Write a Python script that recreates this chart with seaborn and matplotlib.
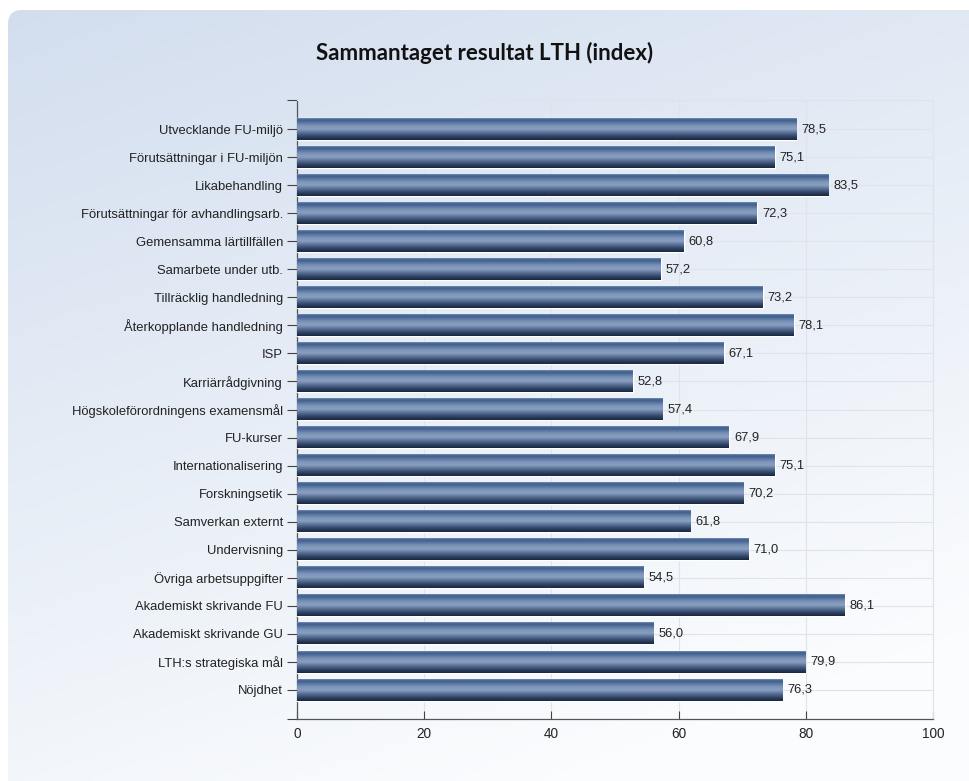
import numpy as np
import pandas as pd
import matplotlib
matplotlib.use('Agg')
import matplotlib.pyplot as plt
import seaborn as sns
from matplotlib.colors import LinearSegmentedColormap
from matplotlib.patches import FancyBboxPatch

categories = [
    'Utvecklande FU-miljö', 'Förutsättningar i FU-miljön', 'Likabehandling',
    'Förutsättningar för avhandlingsarb.', 'Gemensamma lärtillfällen',
    'Samarbete under utb.', 'Tillräcklig handledning', 'Återkopplande handledning',
    'ISP', 'Karriärrådgivning', 'Högskoleförordningens examensmål', 'FU-kurser',
    'Internationalisering', 'Forskningsetik', 'Samverkan externt', 'Undervisning',
    'Övriga arbetsuppgifter', 'Akademiskt skrivande FU', 'Akademiskt skrivande GU',
    'LTH:s strategiska mål', 'Nöjdhet',
]
values = [78.5, 75.1, 83.5, 72.3, 60.8, 57.2, 73.2, 78.1, 67.1, 52.8, 57.4,
          67.9, 75.1, 70.2, 61.8, 71.0, 54.5, 86.1, 56.0, 79.9, 76.3]
x_ticks = [0, 20, 40, 60, 80, 100]

df = pd.DataFrame({'kategori': categories, 'index': values})

sns.set_theme(style='white')
plt.rcParams['font.family'] = ['Liberation Sans', 'DejaVu Sans']

W, H = 970, 781
fig = plt.figure(figsize=(W / 100, H / 100), dpi=100, facecolor='white')

# background panel with soft gradient
bg = fig.add_axes([0, 0, 1, 1], zorder=-5)
bg.set_xlim(0, W)
bg.set_ylim(H, 0)
bg.axis('off')
yy, xx = np.mgrid[0:1:200j, 0:1:200j]
t = np.clip(0.8 * yy + 0.35 * xx, 0, 1)
bg_cmap = LinearSegmentedColormap.from_list('bg', ['#d2ddee', '#e6edf6', '#fbfcfe'])
im = bg.imshow(t, cmap=bg_cmap, extent=[0, W, H, 0], aspect='auto', vmin=0, vmax=1)
panel = FancyBboxPatch((8, 10), W + 40, H + 40, boxstyle='round,pad=0,rounding_size=14',
                       transform=bg.transData, facecolor='none', edgecolor='none')
bg.add_patch(panel)
im.set_clip_path(panel)

ax = fig.add_axes([297 / W, 1 - 719 / H, (933 - 297) / W, (719 - 100) / H])
ax.set_facecolor('none')

sns.barplot(data=df, x='index', y='kategori', orient='h', color='#4a6890',
            width=0.78, ax=ax, zorder=3)

# glossy vertical gradient inside each bar
bar_cmap = LinearSegmentedColormap.from_list('bar', [
    (0.0, '#6f8bb5'), (0.08, '#3d5d8c'), (0.35, '#7d95b9'), (0.5, '#8aa0c1'),
    (0.7, '#50688e'), (0.88, '#2a3c5a'), (1.0, '#1a2740')])
grad = np.linspace(0, 1, 64).reshape(-1, 1)
for p in ax.patches:
    x0, y0, w, h = p.get_x(), p.get_y(), p.get_width(), p.get_height()
    ax.imshow(grad, cmap=bar_cmap, extent=[x0, x0 + w, y0 + h, y0], aspect='auto',
              zorder=4, interpolation='bilinear')

for i, v in enumerate(values):
    ax.text(v + 0.8, i, f'{v:.1f}'.replace('.', ','), va='center', ha='left',
            fontsize=9.3, color='#222222', zorder=5)

ax.set_xlim(0, 100)
ax.set_ylim(21.05, -1.05)
ax.set_xticks(x_ticks)
ax.set_xlabel('')
ax.set_ylabel('')
ax.grid(True, color='#dfe4ec', linewidth=0.8, zorder=0)
ax.set_axisbelow(True)
ax.set_yticks([-1.05, 21.05], minor=True)
ax.tick_params(axis='y', which='both', direction='out', length=7, width=0.8,
               color='#444444', labelsize=9.4, labelcolor='#222222', left=True, pad=3)
ax.tick_params(axis='x', direction='in', length=6, width=0.8, color='#444444',
               labelsize=9.8, labelcolor='#222222', bottom=True, pad=6)
for s in ['left', 'bottom']:
    ax.spines[s].set_color('#555555')
    ax.spines[s].set_linewidth(0.9)
for s in ['top', 'right']:
    ax.spines[s].set_color('#dfe4ec')
    ax.spines[s].set_linewidth(0.8)

fig.text(485 / W, 1 - 53 / H, 'Sammantaget resultat LTH (index)', ha='center', va='center',
         fontsize=16, fontweight='bold', family=['Lato', 'DejaVu Sans'], color='#111111')

fig.savefig('out.png', dpi=100, facecolor='white')
